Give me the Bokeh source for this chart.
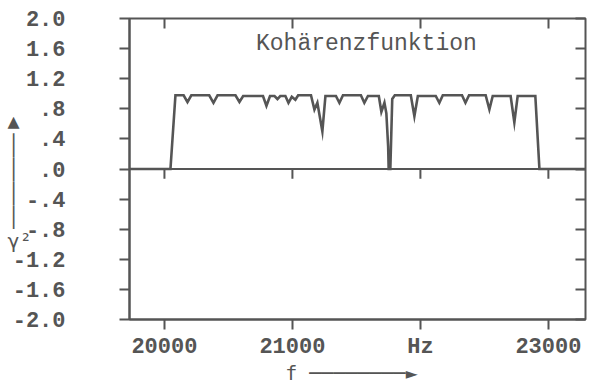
from bokeh.plotting import figure
from bokeh.models import (FixedTicker, LinearAxis, Span, Label, Range1d)
from bokeh.embed import file_html
from bokeh.resources import INLINE

# ---- data ----
freq = [19727, 20047, 20086, 20150, 20180, 20210, 20350, 20383, 20415, 20555, 20586, 20615,
        20770, 20797, 20825, 20860, 20883, 20905, 20945, 20969, 20995, 21023, 21045,
        21145, 21172, 21195, 21234, 21258, 21340, 21367, 21395, 21535, 21562, 21590,
        21675, 21695, 21719, 21734, 21748, 21752, 21765, 21780, 21800,
        21925, 21953, 21980, 22120, 22148, 22175, 22325, 22352, 22380, 22510, 22539, 22565,
        22705, 22734, 22760, 22898, 22930, 23290]
coh = [0.0, 0.0, 0.98, 0.98, 0.89, 0.98, 0.98, 0.88, 0.98, 0.98, 0.89, 0.97,
       0.97, 0.84, 0.97, 0.97, 0.93, 0.97, 0.97, 0.88, 0.96, 0.92, 0.98,
       0.98, 0.79, 0.88, 0.50, 0.97, 0.97, 0.88, 0.98, 0.98, 0.88, 0.97,
       0.97, 0.76, 0.88, 0.74, 0.30, 0.0, 0.0, 0.93, 0.98,
       0.98, 0.70, 0.97, 0.97, 0.88, 0.98, 0.98, 0.88, 0.98, 0.98, 0.79, 0.97,
       0.97, 0.62, 0.97, 0.97, 0.0, 0.0]
x_ticks = [20000, 21000, 22000, 23000]
x_labels = ["20000", "21000", "Hz", "23000"]
y_ticks = [2.0, 1.6, 1.2, 0.8, 0.4, 0.0, -0.4, -0.8, -1.2, -1.6, -2.0]
y_labels = ["2.0", "1.6", "1.2", ".8", ".4", ".0", "-.4", "-.8", "-1.2", "-1.6", "-2.0"]
title_text = "Kohärenzfunktion"
x_title = "f ────────► "
y_title = " \n▲ \n│ \n│ \n│ \n│ \nγ²"

INK = "#555555"
FONT = "Liberation Mono"

p = figure(width=592, height=387, x_range=Range1d(19727, 23290), y_range=Range1d(-2, 2),
           output_backend="svg", toolbar_location=None,
           min_border_left=129, min_border_right=7, min_border_top=18, min_border_bottom=65,
           x_axis_location="below", y_axis_location="left")
p.grid.visible = False
p.outline_line_color = INK
p.outline_line_width = 2
p.background_fill_color = "white"
p.border_fill_color = "white"

# bottom axis
xa = p.xaxis[0]
xa.ticker = FixedTicker(ticks=x_ticks)
xa.major_label_overrides = {t: l for t, l in zip(x_ticks, x_labels)}
xa.major_tick_in = 0
xa.major_tick_out = 10
xa.minor_tick_line_color = None
xa.axis_line_color = INK
xa.axis_line_width = 2
xa.major_tick_line_color = INK
xa.major_tick_line_width = 2
xa.major_label_text_font = FONT
xa.major_label_text_font_style = "bold"
xa.major_label_text_font_size = "22px"
xa.major_label_text_color = INK
xa.major_label_standoff = 5
xa.axis_label = x_title
xa.axis_label_text_font = "DejaVu Sans Mono"
xa.axis_label_text_font_style = "normal"
xa.axis_label_text_font_size = "20px"
xa.axis_label_text_color = INK
xa.axis_label_standoff = -2

# left axis
ya = p.yaxis[0]
ya.ticker = FixedTicker(ticks=y_ticks)
ya.major_label_overrides = {t: l for t, l in zip(y_ticks, y_labels)}
ya.major_tick_in = 0
ya.major_tick_out = 10
ya.minor_tick_line_color = None
ya.axis_line_color = INK
ya.axis_line_width = 2
ya.major_tick_line_color = INK
ya.major_tick_line_width = 2
ya.major_label_text_font = FONT
ya.major_label_text_font_style = "bold"
ya.major_label_text_font_size = "22px"
ya.major_label_text_color = INK
ya.major_label_standoff = 54
ya.axis_label = y_title
ya.axis_label_orientation = "horizontal"
ya.axis_label_text_font = "DejaVu Sans Mono"
ya.axis_label_text_font_style = "normal"
ya.axis_label_text_font_size = "20px"
ya.axis_label_text_line_height = 1.0
ya.axis_label_text_color = INK
ya.axis_label_standoff = -22

# top and right axes: inward ticks, no labels
top = LinearAxis(ticker=FixedTicker(ticks=x_ticks), major_tick_in=10, major_tick_out=0,
                 minor_tick_line_color=None, axis_line_color=None,
                 major_tick_line_color=INK, major_tick_line_width=2,
                 major_label_text_font_size="0px", major_label_standoff=0)
p.add_layout(top, "above")
right = LinearAxis(ticker=FixedTicker(ticks=y_ticks), major_tick_in=10, major_tick_out=0,
                   minor_tick_line_color=None, axis_line_color=None,
                   major_tick_line_color=INK, major_tick_line_width=2,
                   major_label_text_font_size="0px", major_label_standoff=0)
p.add_layout(right, "right")

# zero line with its ticks
p.add_layout(Span(location=0, dimension="width", line_color=INK, line_width=2))
p.segment(x0=x_ticks, y0=[0] * len(x_ticks), x1=x_ticks, y1=[-0.13] * len(x_ticks),
          line_color=INK, line_width=2)

# coherence curve
p.line(freq, coh, line_color=INK, line_width=2.6, line_join="miter")

# title inside the plot
p.add_layout(Label(x=21578, y=1.66, text=title_text, text_font=FONT, text_font_size="23px",
                   text_color=INK, text_align="center", text_baseline="middle"))

open("out.html", "w").write(file_html(p, INLINE))
